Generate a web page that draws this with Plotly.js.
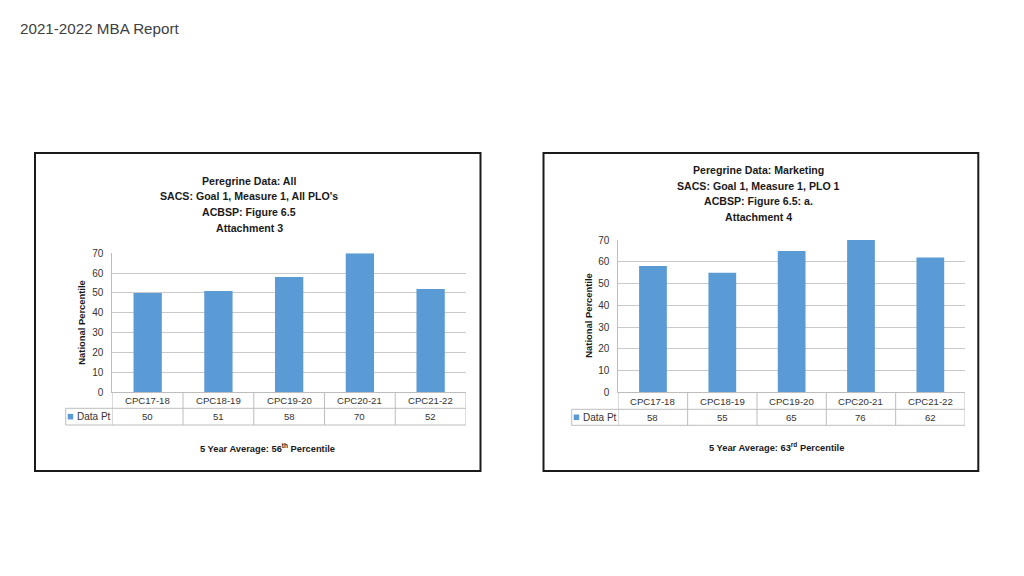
<!DOCTYPE html>
<html>
<head>
<meta charset="utf-8">
<script src="https://cdn.plot.ly/plotly-3.0.1.min.js"></script>
<style>html,body{margin:0;padding:0;background:#fff;}#chart{width:1024px;height:576px;}</style>
</head>
<body>
<div id="chart"></div>
<script>
// ---- data ----
const pageTitle = '2021-2022 MBA Report';
const categories = ['CPC17-18', 'CPC18-19', 'CPC19-20', 'CPC20-21', 'CPC21-22'];
const allValues = [50, 51, 58, 70, 52];
const marketingValues = [58, 55, 65, 76, 62];
const seriesName = 'Data Pt';
const leftTitleLines = ['Peregrine Data: All', "SACS: Goal 1, Measure 1, All PLO's", 'ACBSP: Figure 6.5', 'Attachment 3'];
const rightTitleLines = ['Peregrine Data: Marketing', 'SACS: Goal 1, Measure 1, PLO 1', 'ACBSP: Figure 6.5: a.', 'Attachment 4'];
const leftFooter = '5 Year Average: 56<sup>th</sup> Percentile';
const rightFooter = '5 Year Average: 63<sup>rd</sup> Percentile';
const yAxisTitle = 'National Percentile';
const yRange = [0, 70];

// ---- layout helpers ----
const W = 1024, H = 576;
const px = v => v / W;
const py = v => 1 - v / H;
const FONT = '"Liberation Sans", Arial, sans-serif';
const TXT = '#333333';
const BLUE = '#5b9bd5';
const GRID = '#c9c9c9';
const TABLE = '#bdbdbd';

const charts = [
  { values: allValues, xa: 'x', ya: 'y', left: 112.3, right: 466, top: 253.3, bottom: 392,
    row1: 408.3, row2: 425, legendLeft: 65.7, titleLines: leftTitleLines, titleX: 249,
    titleY: [180.7, 196.3, 212, 227.7], footer: leftFooter, footerX: 267, footerY: 447.7,
    yTitleX: 82, box: [35, 153, 480.5, 471] },
  { values: marketingValues, xa: 'x2', ya: 'y2', left: 618.3, right: 965, top: 240, bottom: 392.3,
    row1: 409.3, row2: 425.3, legendLeft: 571.7, titleLines: rightTitleLines, titleX: 758.3,
    titleY: [170, 185.7, 201, 216.7], footer: rightFooter, footerX: 776.7, footerY: 446.7,
    yTitleX: 588.5, box: [543.5, 153, 978.3, 471] }
];

const data = [];
const shapes = [];
const annotations = [];
const layout = {
  width: W, height: H,
  margin: { l: 0, r: 0, t: 0, b: 0 },
  paper_bgcolor: '#ffffff', plot_bgcolor: '#ffffff',
  showlegend: false,
  font: { family: FONT, color: TXT, size: 10 },
  shapes: shapes, annotations: annotations
};

annotations.push({ text: pageTitle, xref: 'paper', yref: 'paper', x: px(18), y: py(29),
  xanchor: 'left', yanchor: 'middle', showarrow: false, font: { size: 15.2, color: '#404040', family: FONT } });

charts.forEach((c, i) => {
  const sfx = i === 0 ? '' : '2';
  data.push({ type: 'bar', x: categories, y: c.values, name: seriesName,
    xaxis: c.xa, yaxis: c.ya, width: 0.4, marker: { color: BLUE }, hoverinfo: 'x+y', cliponaxis: true });

  layout['xaxis' + sfx] = {
    domain: [px(c.left), px(c.right)], anchor: c.ya, type: 'category',
    range: [-0.5, categories.length - 0.5], showticklabels: false, ticks: '',
    showgrid: false, zeroline: false, showline: true, linecolor: TABLE, linewidth: 1, fixedrange: true
  };
  layout['yaxis' + sfx] = {
    domain: [py(c.bottom), py(c.top)], anchor: c.xa, range: yRange, dtick: 10,
    showgrid: true, gridcolor: GRID, gridwidth: 1, zeroline: false,
    showline: true, linecolor: TABLE, linewidth: 1, ticks: '', ticklabelstandoff: 6,
    tickfont: { size: 10, color: TXT, family: FONT }, fixedrange: true
  };

  // chart box border
  shapes.push({ type: 'rect', xref: 'paper', yref: 'paper', x0: px(c.box[0]), x1: px(c.box[2]),
    y0: py(c.box[3]), y1: py(c.box[1]), line: { color: '#1a1a1a', width: 2 }, fillcolor: 'rgba(0,0,0,0)' });

  // table verticals at category boundaries
  for (let k = 0; k <= categories.length; k++) {
    shapes.push({ type: 'line', xref: c.xa, yref: 'paper', x0: k - 0.5, x1: k - 0.5,
      y0: py(c.bottom), y1: py(c.row2), line: { color: TABLE, width: 1 } });
  }
  // table horizontals
  [c.row1, c.row2].forEach(r => shapes.push({ type: 'line', xref: 'paper', yref: 'paper',
    x0: px(c.legendLeft), x1: px(c.right), y0: py(r), y1: py(r), line: { color: TABLE, width: 1 } }));
  // legend cell left border
  shapes.push({ type: 'line', xref: 'paper', yref: 'paper', x0: px(c.legendLeft), x1: px(c.legendLeft),
    y0: py(c.row1), y1: py(c.row2), line: { color: TABLE, width: 1 } });
  // legend key square
  const my = (c.row1 + c.row2) / 2;
  shapes.push({ type: 'rect', xref: 'paper', yref: 'paper', x0: px(c.legendLeft + 2), x1: px(c.legendLeft + 7.5),
    y0: py(my + 2.8), y1: py(my - 2.8), line: { width: 0 }, fillcolor: BLUE });
  annotations.push({ text: seriesName, xref: 'paper', yref: 'paper', x: px(c.legendLeft + 9.5), y: py(my),
    xanchor: 'left', yanchor: 'middle', showarrow: false, font: { size: 10, color: TXT, family: FONT } });

  // category row and value row
  const cy = (c.bottom + c.row1) / 2;
  categories.forEach((cat, k) => {
    annotations.push({ text: cat, xref: c.xa, yref: 'paper', x: cat, y: py(cy + 0.5),
      xanchor: 'center', yanchor: 'middle', showarrow: false, font: { size: 9.6, color: TXT, family: FONT } });
    annotations.push({ text: String(c.values[k]), xref: c.xa, yref: 'paper', x: cat, y: py(my),
      xanchor: 'center', yanchor: 'middle', showarrow: false, font: { size: 9.6, color: TXT, family: FONT } });
  });

  // title lines
  c.titleLines.forEach((t, k) => annotations.push({ text: '<b>' + t + '</b>', xref: 'paper', yref: 'paper',
    x: px(c.titleX), y: py(c.titleY[k]), xanchor: 'center', yanchor: 'middle', showarrow: false,
    font: { size: 10.6, color: '#1a1a1a', family: FONT } }));

  // y axis title
  annotations.push({ text: '<b>' + yAxisTitle + '</b>', xref: 'paper', yref: 'paper', x: px(c.yTitleX),
    y: py((c.top + c.bottom) / 2), xanchor: 'center', yanchor: 'middle', textangle: -90, showarrow: false,
    font: { size: 9.4, color: '#1a1a1a', family: FONT } });

  // footer
  annotations.push({ text: '<b>' + c.footer + '</b>', xref: 'paper', yref: 'paper', x: px(c.footerX),
    y: py(c.footerY), xanchor: 'center', yanchor: 'middle', showarrow: false,
    font: { size: 9.3, color: '#1a1a1a', family: FONT } });
});

Plotly.newPlot('chart', data, layout, { displayModeBar: false, staticPlot: true });
</script>
</body>
</html>
